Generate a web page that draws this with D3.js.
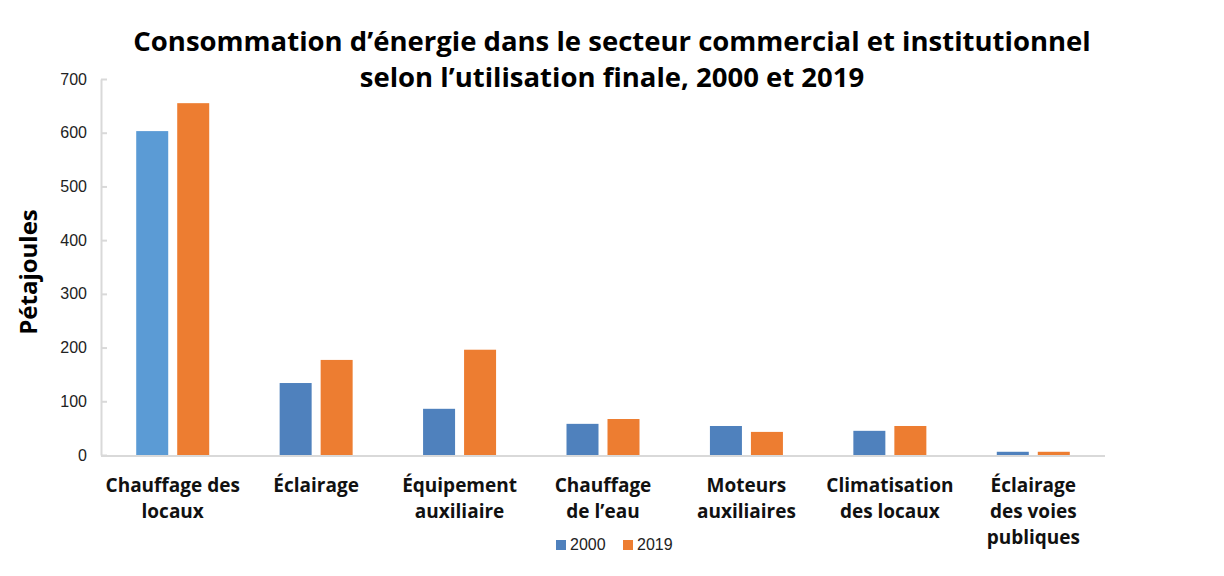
<!doctype html>
<html>
<head>
<meta charset="utf-8">
<script src="https://d3js.org/d3.v7.min.js"></script>
<style>
  body { margin: 0; background: #fff; }
  text { font-family: "Open Sans", "Liberation Sans", sans-serif; }
</style>
</head>
<body>
<svg id="chart" width="1224" height="576"></svg>
<script>
// data
var categories = [
  ["Chauffage des", "locaux"],
  ["Éclairage"],
  ["Équipement", "auxiliaire"],
  ["Chauffage", "de l’eau"],
  ["Moteurs", "auxiliaires"],
  ["Climatisation", "des locaux"],
  ["Éclairage", "des voies", "publiques"]
];
var years = ["2000", "2019"];
var values2000 = [603, 134, 86, 58, 54, 45, 6];
var values2019 = [655, 177, 196, 67, 43, 54, 6];
var yTicks = [0, 100, 200, 300, 400, 500, 600, 700];

var svg = d3.select("#chart");
var plotLeft = 101, plotRight = 1105, plotTop = 79, plotBottom = 455;

var x = d3.scaleBand().domain(d3.range(categories.length)).range([plotLeft, plotRight]);
var y = d3.scaleLinear().domain([0, 700]).range([plotBottom, plotTop]);
var color = { "2000": "#4F81BD", "2019": "#ED7D31" };

// title
svg.append("text").attr("x", 612).attr("y", 51).attr("text-anchor", "middle")
  .style("font-size", "27.5px").style("font-weight", "bold")
  .text("Consommation d’énergie dans le secteur commercial et institutionnel");
svg.append("text").attr("x", 612).attr("y", 87).attr("text-anchor", "middle")
  .style("font-size", "27.5px").style("font-weight", "bold")
  .text("selon l’utilisation finale, 2000 et 2019");

// axes
var yAxis = svg.append("g").attr("transform", "translate(" + plotLeft + ",0)")
  .call(d3.axisLeft(y).tickValues(yTicks).tickSizeInner(-6).tickSizeOuter(0).tickPadding(14));
yAxis.select(".domain").attr("stroke", "#d9d9d9").attr("stroke-width", 2);
yAxis.selectAll(".tick line").attr("stroke", "#d9d9d9").attr("stroke-width", 2);
yAxis.selectAll(".tick text").style("font-size", "16px").attr("fill", "#222")
  .style("font-family", "'Liberation Sans', sans-serif");

svg.append("line").attr("x1", plotLeft).attr("x2", plotRight).attr("y1", plotBottom + 1).attr("y2", plotBottom + 1)
  .attr("stroke", "#d9d9d9").attr("stroke-width", 2);

// bars
var barW = 32, gap = 9;
var groups = svg.append("g").selectAll("g").data(categories).enter().append("g");
groups.append("rect")
  .attr("x", function(d, i) { return x(i) + x.bandwidth() / 2 - gap / 2 - barW; })
  .attr("y", function(d, i) { return y(values2000[i]); })
  .attr("width", barW)
  .attr("height", function(d, i) { return y(0) - y(values2000[i]); })
  .attr("fill", function(d, i) { return i == 0 ? "#5B9BD5" : color["2000"]; });
groups.append("rect")
  .attr("x", function(d, i) { return x(i) + x.bandwidth() / 2 + gap / 2; })
  .attr("y", function(d, i) { return y(values2019[i]); })
  .attr("width", barW)
  .attr("height", function(d, i) { return y(0) - y(values2019[i]); })
  .attr("fill", color["2019"]);

// category labels
groups.each(function(d, i) {
  var t = d3.select(this).append("text")
    .attr("x", x(i) + x.bandwidth() / 2).attr("y", 492)
    .attr("text-anchor", "middle")
    .style("font-size", "19px").style("font-weight", "bold").attr("fill", "#111");
  d.forEach(function(line, k) {
    t.append("tspan").attr("x", x(i) + x.bandwidth() / 2).attr("dy", k == 0 ? 0 : 26).text(line);
  });
});

// y title
svg.append("text").attr("transform", "translate(37,272) rotate(-90)")
  .attr("text-anchor", "middle").style("font-size", "24px").style("font-weight", "bold")
  .text("Pétajoules");

// legend
var legend = svg.append("g").selectAll("g").data(years).enter().append("g")
  .attr("transform", function(d, i) { return "translate(" + (556 + i * 67) + ",540)"; });
legend.append("rect").attr("width", 10).attr("height", 10).attr("fill", function(d) { return color[d]; });
legend.append("text").attr("x", 14).attr("y", 10).style("font-size", "16px")
  .style("font-family", "'Liberation Sans', sans-serif").attr("fill", "#222")
  .text(function(d) { return d; });
</script>
</body>
</html>
